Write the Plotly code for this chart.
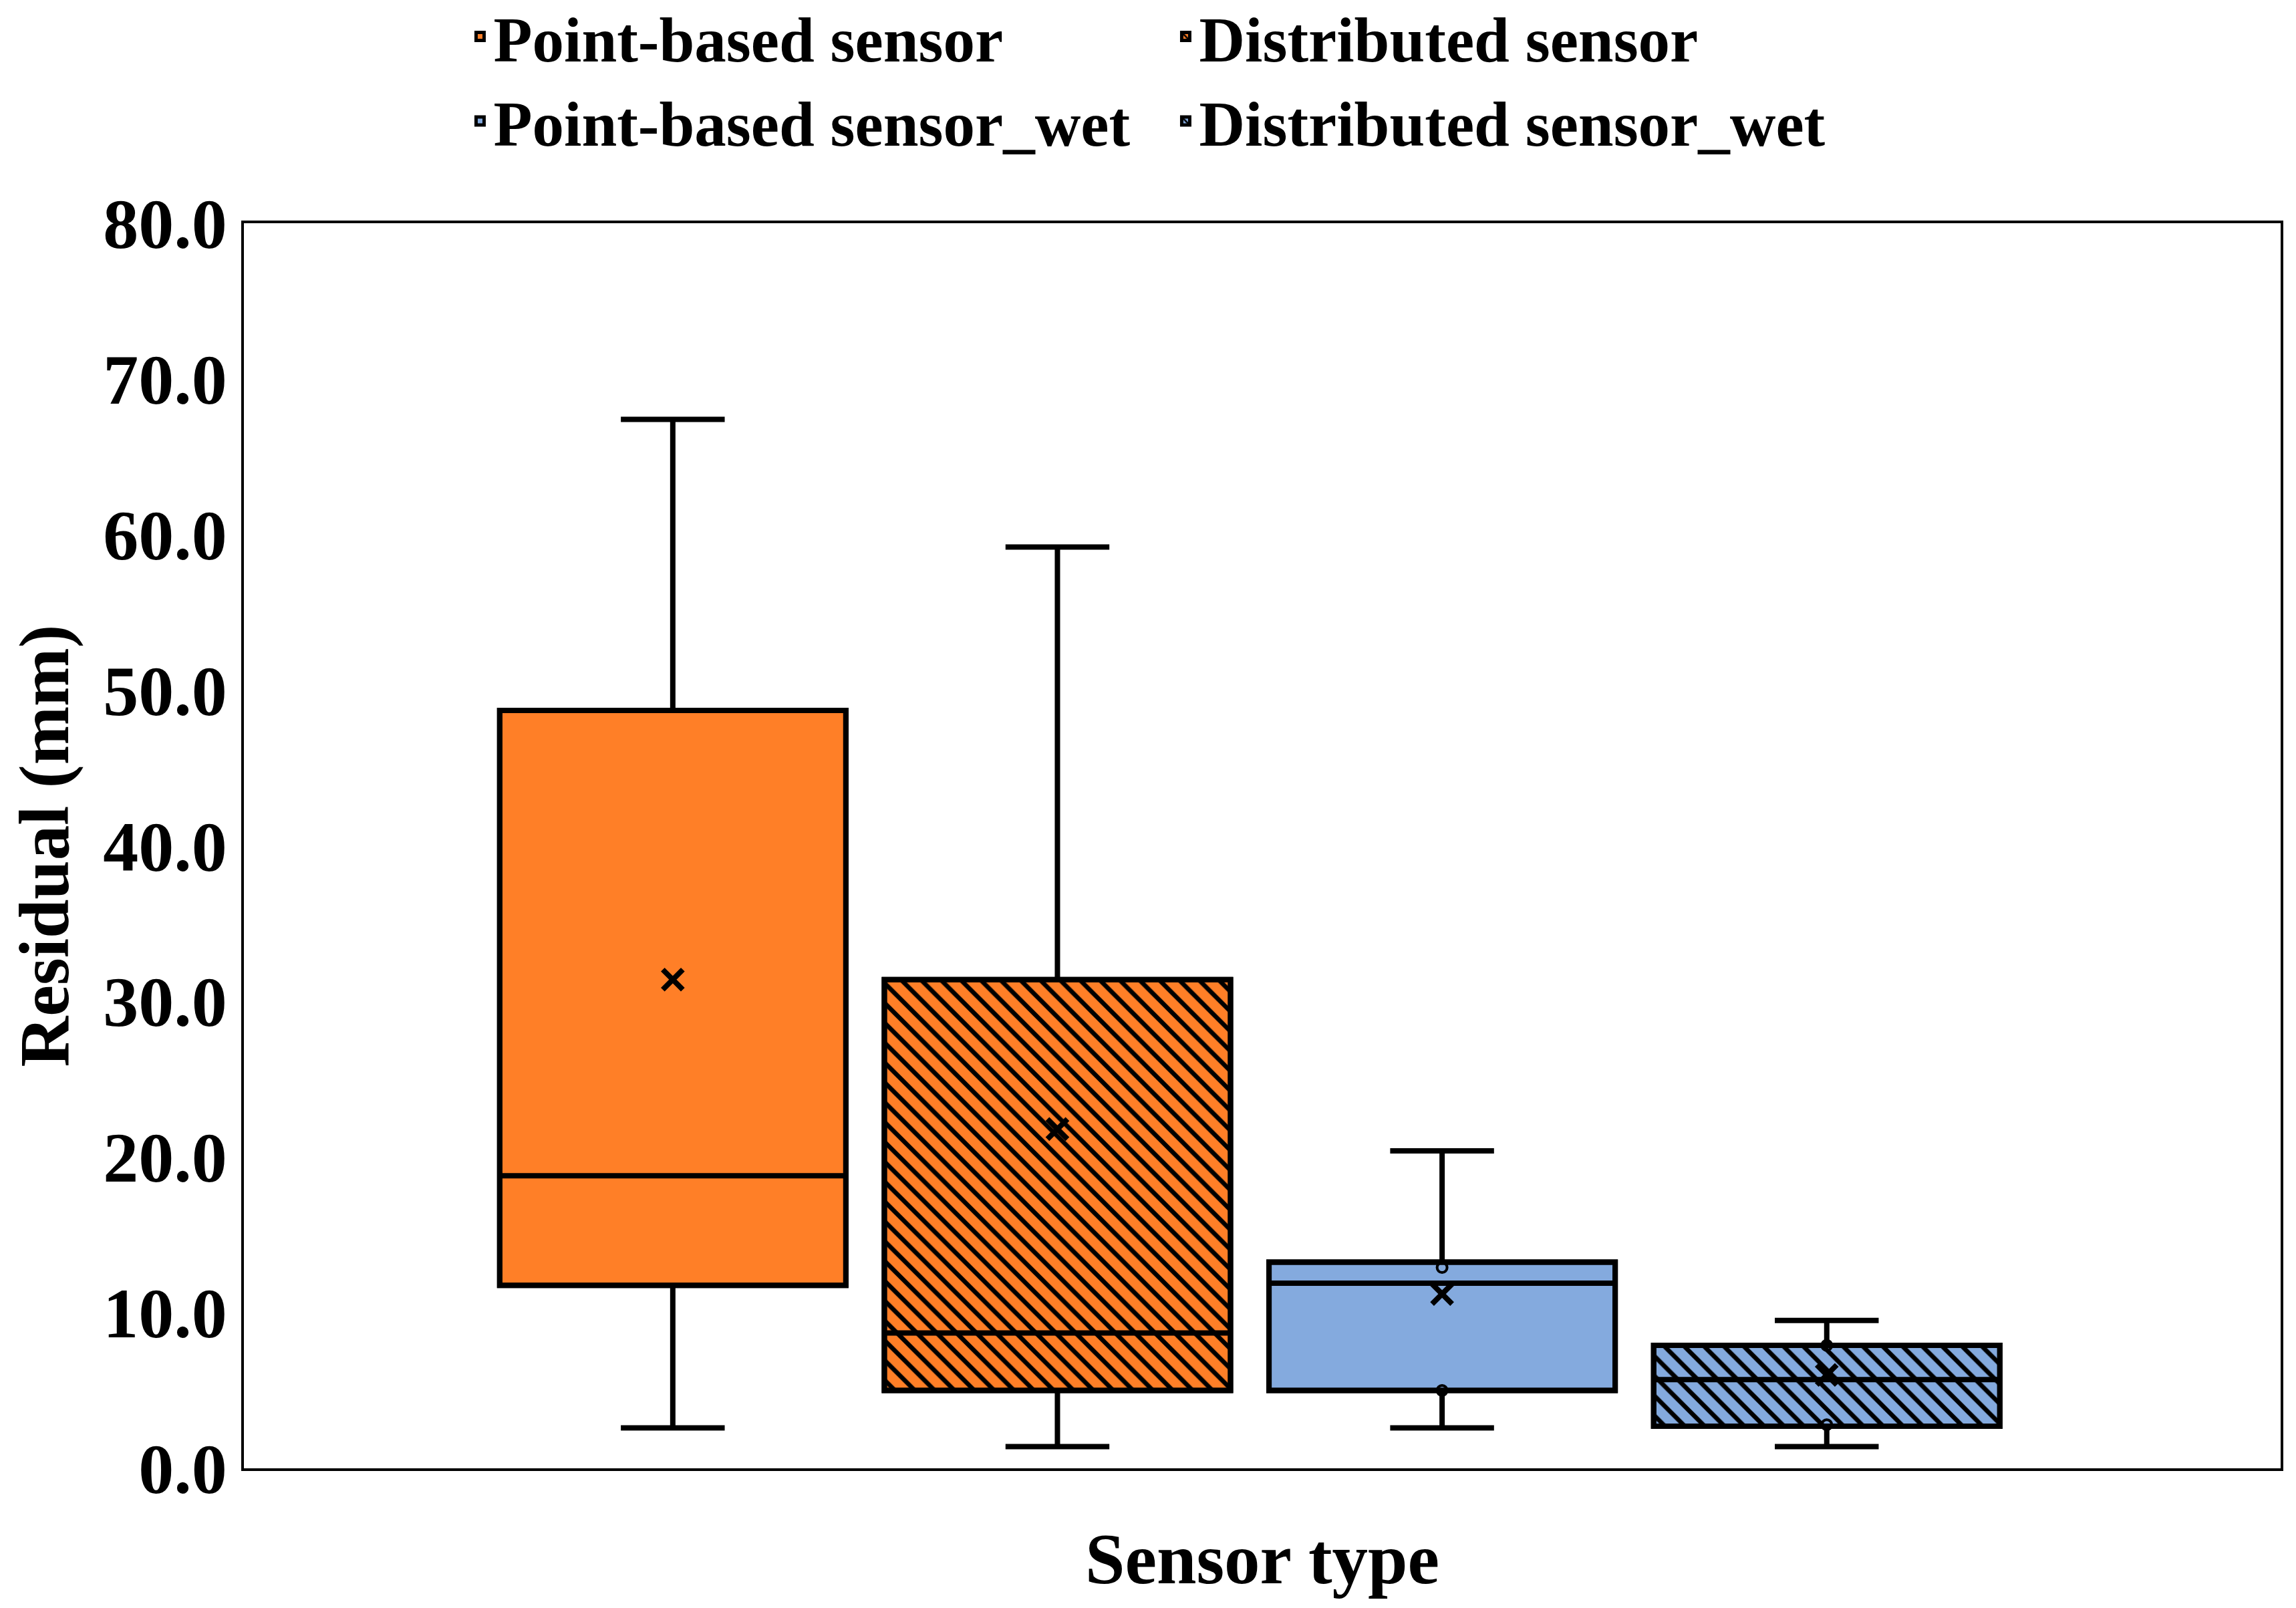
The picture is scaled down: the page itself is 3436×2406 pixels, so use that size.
import plotly.graph_objects as go

# ---- data ----
series = ["Point-based sensor", "Distributed sensor",
          "Point-based sensor_wet", "Distributed sensor_wet"]
lower_whisker = [2.6, 1.4, 2.6, 1.4]
q1_values = [11.75, 5.0, 5.0, 2.7]
median_values = [18.8, 8.7, 11.9, 5.7]
q3_values = [48.7, 31.4, 13.25, 7.9]
upper_whisker = [67.4, 59.2, 20.4, 9.5]
mean_values = [31.4, 21.8, 11.2, 6.0]
inner_points = [[], [], [12.9, 5.0], [7.9, 2.8]]
y_ticks = [0, 10, 20, 30, 40, 50, 60, 70, 80]

# ---- styles ----
fill_colors = ["#FF7F27", "#FF7F27", "#84AADE", "#84AADE"]
hatched = [False, True, False, True]
FONT = "Liberation Serif"
LW = 8

fig = go.Figure()

# filled / hatched box bodies (also provide legend entries)
for i, name in enumerate(series):
    fig.add_trace(go.Bar(
        x=[name], y=[q3_values[i] - q1_values[i]], base=[q1_values[i]],
        width=0.9, name=name, showlegend=True,
        marker=dict(
            color=fill_colors[i],
            line=dict(color="black", width=LW),
            pattern=dict(shape="\\" if hatched[i] else "",
                         fgcolor="black", bgcolor=fill_colors[i],
                         size=21, solidity=0.32, fillmode="replace"),
        ),
        hoverinfo="skip",
    ))

# box outlines, medians and whiskers
for i, name in enumerate(series):
    fig.add_trace(go.Box(
        x=[name], q1=[q1_values[i]], median=[median_values[i]],
        q3=[q3_values[i]], lowerfence=[lower_whisker[i]],
        upperfence=[upper_whisker[i]],
        width=0.9, whiskerwidth=0.3,
        fillcolor="rgba(0,0,0,0)",
        line=dict(color="black", width=LW),
        showlegend=False, boxpoints=False,
    ))

# inner points
for i, name in enumerate(series):
    if inner_points[i]:
        fig.add_trace(go.Scatter(
            x=[name] * len(inner_points[i]), y=inner_points[i], mode="markers",
            marker=dict(symbol="circle-open", size=15, color="black",
                        line=dict(color="black", width=4)),
            showlegend=False,
        ))

# mean markers
fig.add_trace(go.Scatter(
    x=series, y=mean_values, mode="markers",
    marker=dict(symbol="x-thin", size=30, color="black",
                line=dict(color="black", width=8)),
    showlegend=False,
))

fig.update_layout(
    width=3436, height=2406,
    margin=dict(l=357, r=31, t=326, b=217, autoexpand=False),
    paper_bgcolor="white", plot_bgcolor="white",
    barmode="overlay", boxmode="overlay",
    font=dict(family=FONT, color="black", size=100, weight="bold"),
    legend=dict(
        orientation="h", x=0.1094, xanchor="left", y=1.1866, yanchor="top",
        font=dict(family=FONT, size=95, color="black", weight="bold"),
        entrywidth=1011, entrywidthmode="pixels",
        bgcolor="rgba(0,0,0,0)", tracegroupgap=0, itemwidth=30,
    ),
    xaxis=dict(
        type="category", range=[-1.115, 4.18],
        showticklabels=False, ticks="",
        showline=True, linecolor="black", linewidth=4, mirror=True,
        showgrid=False, zeroline=False,
        title=dict(text="Sensor type", standoff=95,
                   font=dict(family=FONT, size=107, color="black", weight="bold")),
    ),
    yaxis=dict(
        range=[0, 80], tickvals=y_ticks, tickformat=".1f",
        ticks="", ticklabelstandoff=0,
        tickfont=dict(family=FONT, size=106, color="black", weight="bold"),
        showline=True, linecolor="black", linewidth=4, mirror=True,
        showgrid=False, zeroline=False,
        title=dict(text="Residual (mm)", standoff=36,
                   font=dict(family=FONT, size=105, color="black", weight="bold")),
    ),
)

fig.write_html("out.html")
